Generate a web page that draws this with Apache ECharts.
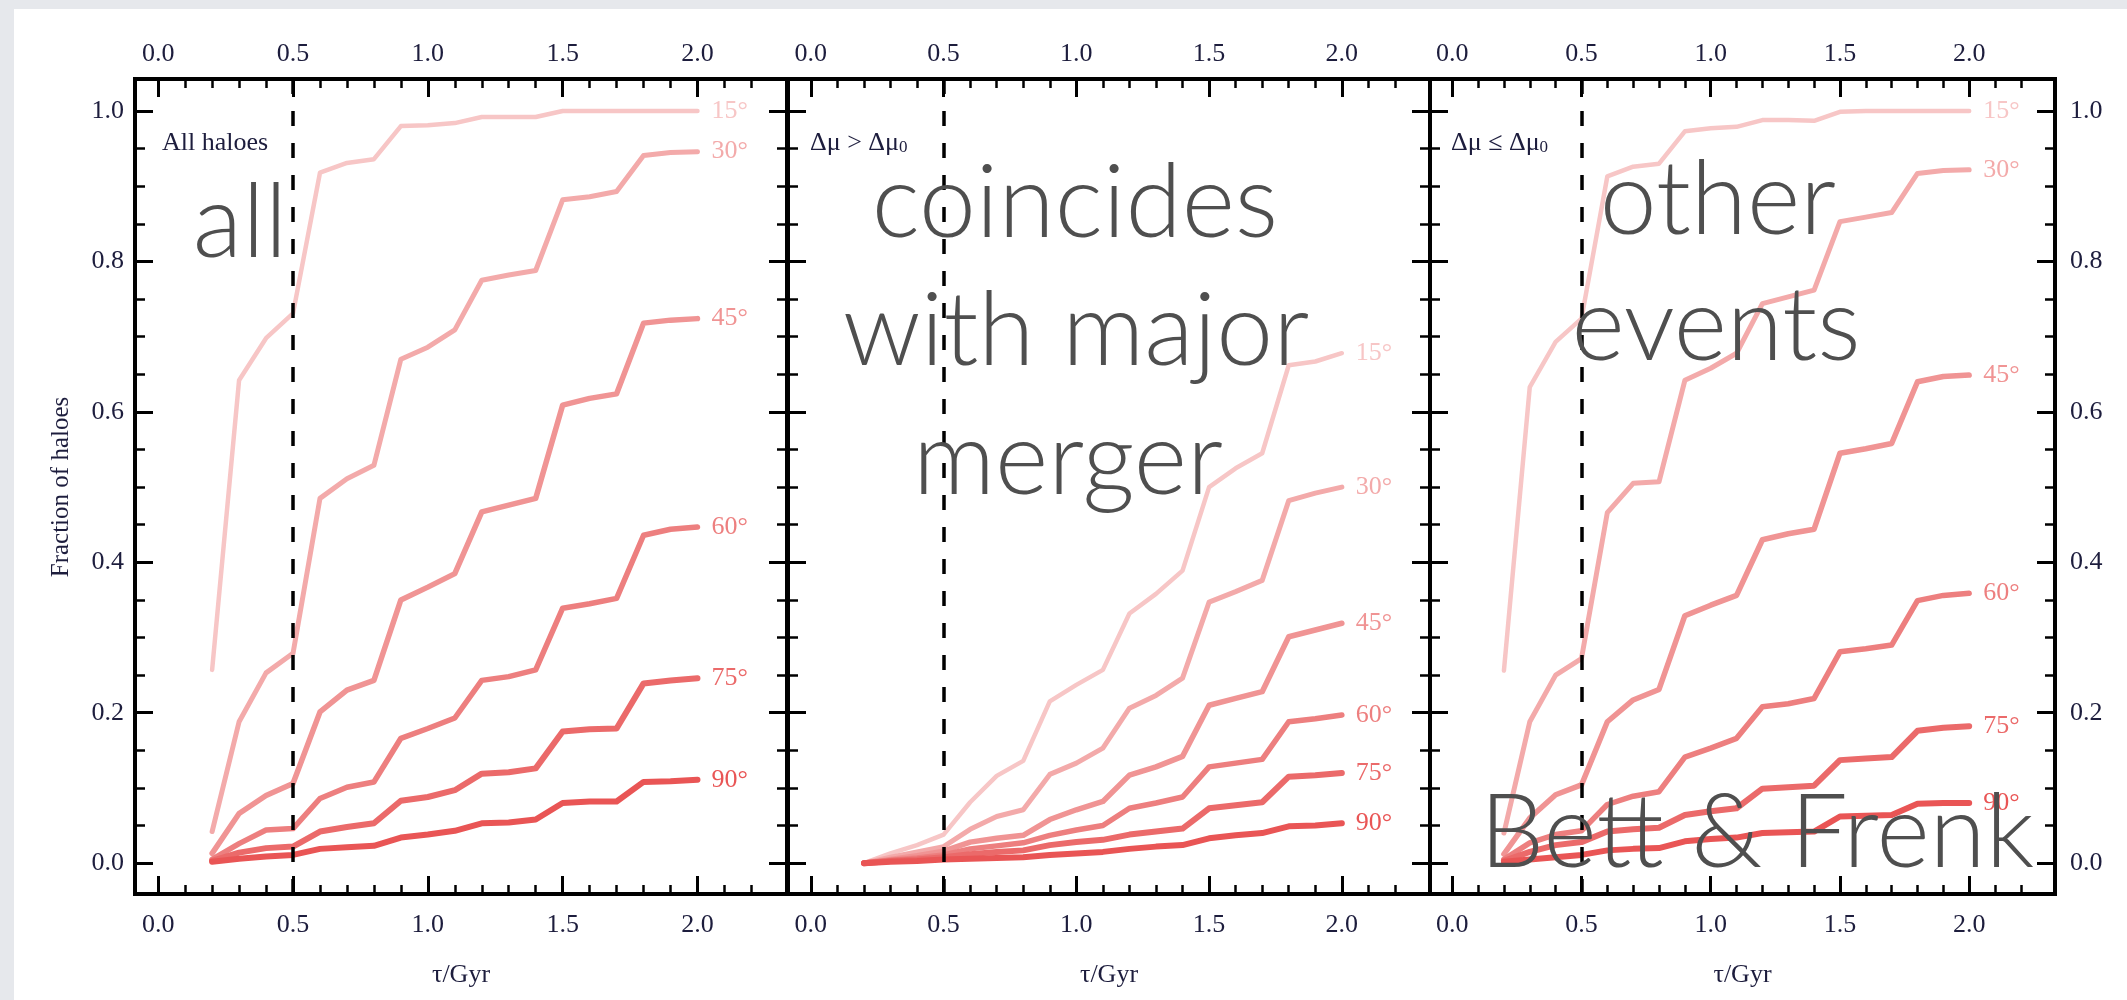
<!DOCTYPE html>
<html>
<head>
<meta charset="utf-8">
<script src="https://cdn.jsdelivr.net/npm/echarts@6/dist/echarts.min.js"></script>
<style>
  html, body { margin: 0; padding: 0; background: #ffffff; }
  #chart { width: 2127px; height: 1000px; }
</style>
</head>
<body>
<div id="chart"></div>
<script>
// ---------------- data ----------------
const XS = [0.2, 0.3, 0.4, 0.5, 0.6, 0.7, 0.8, 0.9, 1.0, 1.1, 1.2, 1.3, 1.4, 1.5, 1.6, 1.7, 1.8, 1.9, 2.0];
const ANGLES = ['15°', '30°', '45°', '60°', '75°', '90°'];

// Panel 1: all haloes
const ALL_15 = [0.257, 0.642, 0.698, 0.731, 0.918, 0.931, 0.936, 0.980, 0.981, 0.984, 0.992, 0.992, 0.992, 1.000, 1.000, 1.000, 1.000, 1.000, 1.000];
const ALL_30 = [0.042, 0.188, 0.253, 0.279, 0.485, 0.511, 0.529, 0.670, 0.686, 0.709, 0.775, 0.782, 0.788, 0.882, 0.886, 0.893, 0.941, 0.945, 0.946];
const ALL_45 = [0.013, 0.066, 0.090, 0.106, 0.201, 0.230, 0.243, 0.350, 0.367, 0.385, 0.467, 0.476, 0.485, 0.609, 0.618, 0.624, 0.718, 0.722, 0.724];
const ALL_60 = [0.005, 0.026, 0.044, 0.046, 0.086, 0.101, 0.108, 0.166, 0.179, 0.193, 0.243, 0.248, 0.257, 0.339, 0.345, 0.352, 0.436, 0.444, 0.447];
const ALL_75 = [0.003, 0.014, 0.020, 0.022, 0.042, 0.048, 0.053, 0.083, 0.088, 0.097, 0.119, 0.121, 0.126, 0.175, 0.178, 0.179, 0.239, 0.243, 0.246];
const ALL_90 = [0.002, 0.006, 0.009, 0.011, 0.019, 0.021, 0.023, 0.034, 0.038, 0.043, 0.053, 0.054, 0.058, 0.080, 0.082, 0.082, 0.108, 0.109, 0.111];

// Panel 2: coincides with major merger
const MAJ_15 = [0.000, 0.013, 0.024, 0.038, 0.081, 0.116, 0.136, 0.215, 0.237, 0.257, 0.332, 0.358, 0.389, 0.500, 0.525, 0.545, 0.662, 0.667, 0.678];
const MAJ_30 = [0.000, 0.008, 0.015, 0.022, 0.045, 0.062, 0.071, 0.118, 0.133, 0.153, 0.206, 0.223, 0.246, 0.347, 0.361, 0.376, 0.482, 0.492, 0.500];
const MAJ_45 = [0.000, 0.005, 0.010, 0.016, 0.028, 0.033, 0.037, 0.058, 0.071, 0.082, 0.117, 0.128, 0.142, 0.210, 0.219, 0.228, 0.301, 0.310, 0.319];
const MAJ_60 = [0.000, 0.004, 0.007, 0.011, 0.019, 0.023, 0.027, 0.037, 0.044, 0.050, 0.073, 0.080, 0.088, 0.128, 0.133, 0.138, 0.188, 0.192, 0.197];
const MAJ_75 = [0.000, 0.003, 0.005, 0.008, 0.012, 0.015, 0.017, 0.024, 0.028, 0.031, 0.038, 0.042, 0.046, 0.073, 0.077, 0.081, 0.115, 0.117, 0.120];
const MAJ_90 = [0.000, 0.002, 0.003, 0.005, 0.006, 0.007, 0.008, 0.011, 0.013, 0.015, 0.019, 0.022, 0.024, 0.033, 0.037, 0.040, 0.049, 0.050, 0.053];

// Panel 3: other events
const OTH_15 = [0.256, 0.633, 0.693, 0.724, 0.913, 0.926, 0.930, 0.973, 0.977, 0.979, 0.988, 0.988, 0.987, 0.999, 1.000, 1.000, 1.000, 1.000, 1.000];
const OTH_30 = [0.040, 0.188, 0.250, 0.272, 0.466, 0.505, 0.507, 0.642, 0.658, 0.678, 0.744, 0.753, 0.762, 0.853, 0.859, 0.865, 0.917, 0.921, 0.922];
const OTH_45 = [0.012, 0.060, 0.091, 0.104, 0.188, 0.217, 0.231, 0.329, 0.343, 0.356, 0.430, 0.438, 0.444, 0.545, 0.551, 0.558, 0.640, 0.647, 0.649];
const OTH_60 = [0.005, 0.027, 0.038, 0.043, 0.078, 0.089, 0.095, 0.141, 0.153, 0.166, 0.208, 0.212, 0.219, 0.281, 0.285, 0.290, 0.349, 0.356, 0.359];
const OTH_75 = [0.003, 0.015, 0.024, 0.028, 0.042, 0.045, 0.047, 0.064, 0.069, 0.073, 0.099, 0.101, 0.103, 0.137, 0.139, 0.141, 0.176, 0.180, 0.182];
const OTH_90 = [0.002, 0.005, 0.008, 0.011, 0.017, 0.019, 0.020, 0.029, 0.032, 0.034, 0.040, 0.041, 0.042, 0.062, 0.063, 0.064, 0.079, 0.080, 0.080];

// Tick values
const X_MAJOR = [0, 0.5, 1.0, 1.5, 2.0];
const X_MINOR = [0.1, 0.2, 0.3, 0.4, 0.6, 0.7, 0.8, 0.9, 1.1, 1.2, 1.3, 1.4, 1.6, 1.7, 1.8, 1.9, 2.1, 2.2];
const Y_MAJOR = [0, 0.2, 0.4, 0.6, 0.8, 1.0];
const Y_MINOR = [0.05, 0.1, 0.15, 0.25, 0.3, 0.35, 0.45, 0.5, 0.55, 0.65, 0.7, 0.75, 0.85, 0.9, 0.95];
const DIVIDE_AT = 0.5;

const PANEL_TAGS = ['All haloes', '{a|Δμ > Δμ}{s|0}', '{a|Δμ ≤ Δμ}{s|0}'];
const PANELS = [
  [ALL_15, ALL_30, ALL_45, ALL_60, ALL_75, ALL_90],
  [MAJ_15, MAJ_30, MAJ_45, MAJ_60, MAJ_75, MAJ_90],
  [OTH_15, OTH_30, OTH_45, OTH_60, OTH_75, OTH_90]
];

// ---------------- styling / layout ----------------
const XMIN = -0.086, XMAX = 2.332, YMIN = -0.041, YMAX = 1.0426;
const GRID_L = [135, 788, 1430];
const GRID_R = [787, 1430, 2055];
const GRID_TOP = 79, GRID_BOTTOM_Y = 894;
const COLORS = ['#f7c6c6', '#f3aaaa', '#f09494', '#ed7f7f', '#eb6a6a', '#e95555'];
const WIDTHS = [4.5, 5, 5.5, 5.5, 6, 6];
const TXT = '#1d1d3d';
const SERIF = 'Liberation Serif';
const BIG = { fontFamily: 'Lato', fontWeight: 300, fontSize: 102, fill: '#4f4f4f' };

const grids = [], xAxes = [], yAxes = [], series = [];

function fmt(v) { return Number(v).toFixed(1); }

for (let i = 0; i < 3; i++) {
  grids.push({
    left: GRID_L[i], top: GRID_TOP,
    width: GRID_R[i] - GRID_L[i], height: GRID_BOTTOM_Y - GRID_TOP,
    show: true, borderColor: '#000', borderWidth: 4, backgroundColor: 'transparent'
  });
  const mk = (pos, vals, len, labels, extra) => Object.assign({
    gridIndex: i, type: 'value', min: XMIN, max: XMAX, position: pos,
    axisLine: { show: false, onZero: false }, splitLine: { show: false },
    axisTick: { show: true, inside: true, length: len, customValues: vals, lineStyle: { color: '#000', width: labels ? 3 : 2.5 } },
    axisLabel: labels ? { show: true, customValues: vals, formatter: fmt, margin: pos === 'top' ? 12 : 18,
      color: TXT, fontFamily: SERIF, fontSize: 26 } : { show: false }
  }, extra || {});
  xAxes.push(mk('bottom', X_MAJOR, 18, true, {
    name: 'τ/Gyr', nameLocation: 'middle', nameGap: 68,
    nameTextStyle: { color: TXT, fontFamily: SERIF, fontSize: 26 }
  }));
  xAxes.push(mk('bottom', X_MINOR, 9, false));
  xAxes.push(mk('top', X_MAJOR, 18, true));
  xAxes.push(mk('top', X_MINOR, 9, false));

  const mky = (pos, vals, len, labels) => ({
    gridIndex: i, type: 'value', min: YMIN, max: YMAX, position: pos,
    axisLine: { show: false, onZero: false }, splitLine: { show: false },
    axisTick: { show: true, inside: true, length: len, customValues: vals, lineStyle: { color: '#000', width: len > 12 ? 3 : 2.5 } },
    axisLabel: labels ? { show: true, customValues: vals, formatter: fmt, margin: pos === 'left' ? 11 : 15,
      color: TXT, fontFamily: SERIF, fontSize: 26 } : { show: false }
  });
  yAxes.push(mky('left', Y_MAJOR, 18, i === 0));
  yAxes.push(mky('left', Y_MINOR, 10, false));
  yAxes.push(mky('right', Y_MAJOR, 18, i === 2));
  yAxes.push(mky('right', Y_MINOR, 10, false));

  PANELS[i].forEach((arr, k) => {
    const s = {
      type: 'line', name: ANGLES[k] + ' p' + i,
      xAxisIndex: i * 4, yAxisIndex: i * 4,
      data: XS.map((x, j) => [x, arr[j]]),
      symbol: 'none', smooth: false, z: 2 + k,
      lineStyle: { color: COLORS[k], width: WIDTHS[k], join: 'round', cap: 'round' },
      endLabel: { show: true, formatter: ANGLES[k], color: COLORS[k], fontFamily: SERIF, fontSize: 26, distance: 14 },
      animation: false
    };
    if (k === 5) {
      s.markLine = {
        silent: true, symbol: ['none', 'none'], label: { show: false }, animation: false, z: 20,
        lineStyle: { color: '#000', width: 3.5, type: [15, 17] },
        data: [{ xAxis: DIVIDE_AT }]
      };
    }
    series.push(s);
  });
}

const graphic = [
  { type: 'rect', shape: { x: 0, y: 0, width: 2127, height: 9 }, style: { fill: '#e6e8ec' }, z: 100 },
  { type: 'rect', shape: { x: 0, y: 0, width: 14, height: 1000 }, style: { fill: '#e6e8ec' }, z: 100 },
  { type: 'text', x: 61, y: 487, rotation: Math.PI / 2,
    style: { text: 'Fraction of haloes', fontFamily: SERIF, fontSize: 25, fill: TXT, align: 'center', verticalAlign: 'middle' } },
  { type: 'text', x: 162, y: 143, style: { text: PANEL_TAGS[0], fontFamily: SERIF, fontSize: 26, fill: TXT, align: 'left', verticalAlign: 'middle' } },
  { type: 'text', x: 810, y: 143, style: { text: PANEL_TAGS[1], fill: TXT, align: 'left', verticalAlign: 'middle',
      rich: { a: { fontFamily: SERIF, fontSize: 26, fill: TXT }, s: { fontFamily: SERIF, fontSize: 17, fill: TXT, padding: [10, 0, 0, 0] } } } },
  { type: 'text', x: 1451, y: 143, style: { text: PANEL_TAGS[2], fill: TXT, align: 'left', verticalAlign: 'middle',
      rich: { a: { fontFamily: SERIF, fontSize: 26, fill: TXT }, s: { fontFamily: SERIF, fontSize: 17, fill: TXT, padding: [10, 0, 0, 0] } } } }
];
const BIG_TEXT = [
  ['all', 240, 260], ['coincides', 1075, 240], ['with major', 1076, 368], ['merger', 1068, 497],
  ['other', 1718, 237], ['events', 1716, 363], ['Bett & Frenk', 1757, 870]
];
BIG_TEXT.forEach(([t, x, base]) => {
  graphic.push({ type: 'text', x: x, y: base - 36, z: 50,
    style: Object.assign({ text: t, align: 'center', verticalAlign: 'middle' }, BIG) });
});

const chart = echarts.init(document.getElementById('chart'), null, { renderer: 'canvas' });
chart.setOption({
  animation: false,
  backgroundColor: '#ffffff',
  grid: grids, xAxis: xAxes, yAxis: yAxes, series: series, graphic: graphic
});
</script>
</body>
</html>
